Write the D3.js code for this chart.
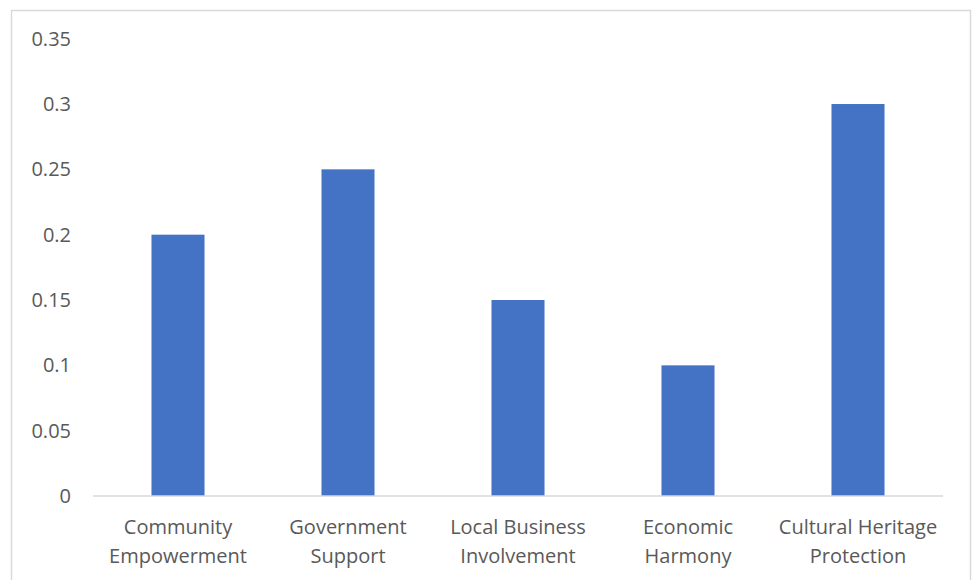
<!DOCTYPE html>
<html>
<head>
<meta charset="utf-8">
<script src="https://cdn.jsdelivr.net/npm/d3@7"></script>
<style>
  body { margin: 0; background: #fff; }
  svg { display: block; }
</style>
</head>
<body>
<svg class="chart" width="977" height="580"></svg>
<script>
// data
let categories = [
  ['Community', 'Empowerment'],
  ['Government', 'Support'],
  ['Local Business', 'Involvement'],
  ['Economic', 'Harmony'],
  ['Cultural Heritage', 'Protection']
];
let values = [0.2, 0.25, 0.15, 0.1, 0.3];
let yTicks = [0, 0.05, 0.1, 0.15, 0.2, 0.25, 0.3, 0.35];

let width = 977, height = 580;
let plotLeft = 93, plotRight = 943, plotTop = 38.7, plotBottom = 496;
let textColor = '#595959';
let fontFam = "'Open Sans', sans-serif";

let svg = d3.select('svg.chart');

// chart border
svg.append('rect')
  .attr('x', 11.5).attr('y', 10.5)
  .attr('width', 959).attr('height', 580)
  .style('fill', 'none')
  .style('stroke', '#d9d9d9')
  .style('stroke-width', 1.5);

let x = d3.scaleBand()
  .domain(d3.range(categories.length))
  .range([plotLeft, plotRight])
  .paddingInner(0.688)
  .paddingOuter(0.344);

let y = d3.scaleLinear()
  .domain([0, 0.35])
  .range([plotBottom, plotTop]);

// bars
svg.selectAll('rect.bar')
  .data(values)
  .enter()
  .append('rect')
  .classed('bar', true)
  .attr('x', (d, i) => x(i))
  .attr('y', d => y(d))
  .attr('width', x.bandwidth())
  .attr('height', d => y(0) - y(d))
  .style('fill', '#4472c4');

// baseline
svg.append('line')
  .attr('x1', plotLeft).attr('x2', plotRight)
  .attr('y1', y(0)).attr('y2', y(0))
  .style('stroke', '#d9d9d9')
  .style('stroke-width', 1.5);

// y tick labels
svg.selectAll('text.ytick')
  .data(yTicks)
  .enter()
  .append('text')
  .classed('ytick', true)
  .attr('x', 71)
  .attr('y', d => y(d))
  .attr('dy', '0.35em')
  .attr('text-anchor', 'end')
  .style('font-family', fontFam)
  .style('font-size', '20px')
  .style('fill', textColor)
  .text(d => d3.format('')(d));

// category labels, two lines each
let catLabels = svg.selectAll('text.xlab')
  .data(categories)
  .enter()
  .append('text')
  .classed('xlab', true)
  .attr('text-anchor', 'middle')
  .style('font-family', fontFam)
  .style('font-size', '20px')
  .style('fill', textColor);

catLabels.selectAll('tspan')
  .data((d, i) => d.map(line => ({line, i})))
  .enter()
  .append('tspan')
  .attr('x', d => x(d.i) + x.bandwidth() / 2)
  .attr('y', (d, j) => 527 + j * 29)
  .attr('dy', '0.35em')
  .text(d => d.line);
</script>
</body>
</html>
